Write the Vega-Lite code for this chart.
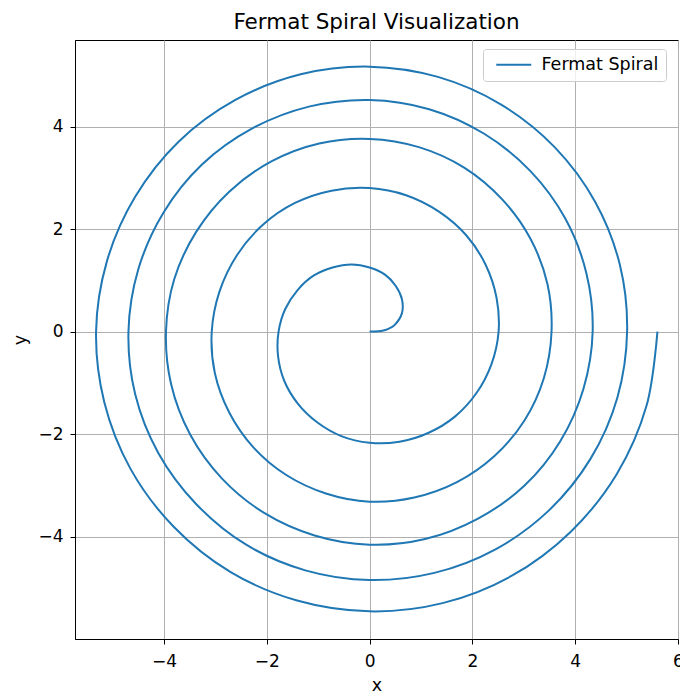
{
  "$schema": "https://vega.github.io/schema/vega-lite/v6.json",
  "width": 603,
  "height": 599,
  "autosize": "none",
  "padding": {"left": 75, "top": 40, "right": 2, "bottom": 56},
  "background": "white",
  "title": {"text": "Fermat Spiral Visualization", "font": "DejaVu Sans", "fontSize": 21.5, "fontWeight": "normal", "color": "#000000", "offset": 7, "anchor": "middle"},
  "config": {
    "font": "DejaVu Sans",
    "view": {"stroke": "#000000", "strokeWidth": 1},
    "axis": {
      "domain": true, "domainColor": "#000000", "domainWidth": 1,
      "ticks": true, "tickColor": "#000000", "tickSize": 5, "tickWidth": 1,
      "labelFont": "DejaVu Sans", "labelFontSize": 17, "labelColor": "#000000",
      "grid": true, "gridColor": "#b0b0b0", "gridWidth": 1,
      "titleFont": "DejaVu Sans", "titleFontSize": 17.5, "titleFontWeight": "normal", "titleColor": "#000000"
    }
  },
  "data": {"values": [
    {"i": 0, "x": 0, "y": 0},
    {"i": 0.1, "x": 0.1, "y": 0.0},
    {"i": 0.3, "x": 0.22, "y": 0.01},
    {"i": 0.5, "x": 0.31, "y": 0.03},
    {"i": 0.7, "x": 0.42, "y": 0.08},
    {"i": 1, "x": 0.49, "y": 0.13},
    {"i": 2, "x": 0.63, "y": 0.36},
    {"i": 3, "x": 0.63, "y": 0.63},
    {"i": 4, "x": 0.51, "y": 0.89},
    {"i": 5, "x": 0.30, "y": 1.11},
    {"i": 6, "x": 0, "y": 1.25},
    {"i": 7, "x": -0.35, "y": 1.31},
    {"i": 8, "x": -0.72, "y": 1.25},
    {"i": 9, "x": -1.09, "y": 1.09},
    {"i": 10, "x": -1.40, "y": 0.81},
    {"i": 11, "x": -1.64, "y": 0.44},
    {"i": 12, "x": -1.77, "y": 0},
    {"i": 13, "x": -1.78, "y": -0.48},
    {"i": 14, "x": -1.66, "y": -0.96},
    {"i": 15, "x": -1.40, "y": -1.40},
    {"i": 16, "x": -1.02, "y": -1.77},
    {"i": 17, "x": -0.55, "y": -2.04},
    {"i": 18, "x": 0, "y": -2.17},
    {"i": 19, "x": 0.58, "y": -2.15},
    {"i": 20, "x": 1.14, "y": -1.98},
    {"i": 21, "x": 1.66, "y": -1.66},
    {"i": 22, "x": 2.08, "y": -1.20},
    {"i": 23, "x": 2.37, "y": -0.64},
    {"i": 24, "x": 2.51, "y": 0},
    {"i": 25, "x": 2.47, "y": 0.66},
    {"i": 26, "x": 2.26, "y": 1.30},
    {"i": 27, "x": 1.88, "y": 1.88},
    {"i": 28, "x": 1.35, "y": 2.34},
    {"i": 29, "x": 0.71, "y": 2.66},
    {"i": 30, "x": 0, "y": 2.80},
    {"i": 31, "x": -0.74, "y": 2.75},
    {"i": 32, "x": -1.45, "y": 2.51},
    {"i": 33, "x": -2.08, "y": 2.08},
    {"i": 34, "x": -2.58, "y": 1.49},
    {"i": 35, "x": -2.92, "y": 0.78},
    {"i": 36, "x": -3.07, "y": 0},
    {"i": 37, "x": -3.01, "y": -0.81},
    {"i": 38, "x": -2.73, "y": -1.58},
    {"i": 39, "x": -2.26, "y": -2.26},
    {"i": 40, "x": -1.62, "y": -2.80},
    {"i": 41, "x": -0.85, "y": -3.16},
    {"i": 42, "x": 0, "y": -3.32},
    {"i": 43, "x": 0.87, "y": -3.24},
    {"i": 44, "x": 1.70, "y": -2.94},
    {"i": 45, "x": 2.43, "y": -2.43},
    {"i": 46, "x": 3.01, "y": -1.74},
    {"i": 47, "x": 3.39, "y": -0.91},
    {"i": 48, "x": 3.54, "y": 0},
    {"i": 49, "x": 3.46, "y": 0.93},
    {"i": 50, "x": 3.13, "y": 1.81},
    {"i": 51, "x": 2.58, "y": 2.58},
    {"i": 52, "x": 1.84, "y": 3.20},
    {"i": 53, "x": 0.96, "y": 3.60},
    {"i": 54, "x": 0, "y": 3.76},
    {"i": 55, "x": -0.98, "y": 3.67},
    {"i": 56, "x": -1.91, "y": 3.32},
    {"i": 57, "x": -2.73, "y": 2.73},
    {"i": 58, "x": -3.37, "y": 1.95},
    {"i": 59, "x": -3.80, "y": 1.02},
    {"i": 60, "x": -3.96, "y": 0},
    {"i": 61, "x": -3.86, "y": -1.03},
    {"i": 62, "x": -3.49, "y": -2.01},
    {"i": 63, "x": -2.87, "y": -2.87},
    {"i": 64, "x": -2.05, "y": -3.54},
    {"i": 65, "x": -1.07, "y": -3.98},
    {"i": 66, "x": 0, "y": -4.16},
    {"i": 67, "x": 1.08, "y": -4.05},
    {"i": 68, "x": 2.11, "y": -3.65},
    {"i": 69, "x": 3.01, "y": -3.01},
    {"i": 70, "x": 3.71, "y": -2.14},
    {"i": 71, "x": 4.16, "y": -1.12},
    {"i": 72, "x": 4.34, "y": 0},
    {"i": 73, "x": 4.22, "y": 1.13},
    {"i": 74, "x": 3.81, "y": 2.20},
    {"i": 75, "x": 3.13, "y": 3.13},
    {"i": 76, "x": 2.23, "y": 3.86},
    {"i": 77, "x": 1.16, "y": 4.34},
    {"i": 78, "x": 0, "y": 4.52},
    {"i": 79, "x": -1.18, "y": 4.39},
    {"i": 80, "x": -2.29, "y": 3.96},
    {"i": 81, "x": -3.26, "y": 3.26},
    {"i": 82, "x": -4.01, "y": 2.32},
    {"i": 83, "x": -4.50, "y": 1.21},
    {"i": 84, "x": -4.69, "y": 0},
    {"i": 85, "x": -4.56, "y": -1.22},
    {"i": 86, "x": -4.11, "y": -2.37},
    {"i": 87, "x": -3.37, "y": -3.37},
    {"i": 88, "x": -2.40, "y": -4.16},
    {"i": 89, "x": -1.25, "y": -4.66},
    {"i": 90, "x": 0, "y": -4.85},
    {"i": 91, "x": 1.26, "y": -4.71},
    {"i": 92, "x": 2.45, "y": -4.25},
    {"i": 93, "x": 3.49, "y": -3.49},
    {"i": 94, "x": 4.30, "y": -2.48},
    {"i": 95, "x": 4.82, "y": -1.29},
    {"i": 96, "x": 5.01, "y": 0},
    {"i": 97, "x": 4.87, "y": 1.30},
    {"i": 98, "x": 4.39, "y": 2.53},
    {"i": 99, "x": 3.60, "y": 3.60},
    {"i": 100, "x": 2.56, "y": 4.43},
    {"i": 101, "x": 1.33, "y": 4.97},
    {"i": 102, "x": 0, "y": 5.17},
    {"i": 103, "x": -1.34, "y": 5.02},
    {"i": 104, "x": -2.61, "y": 4.52},
    {"i": 105, "x": -3.71, "y": 3.71},
    {"i": 106, "x": -4.56, "y": 2.63},
    {"i": 107, "x": -5.11, "y": 1.37},
    {"i": 108, "x": -5.32, "y": 0},
    {"i": 109, "x": -5.16, "y": -1.38},
    {"i": 110, "x": -4.65, "y": -2.68},
    {"i": 111, "x": -3.81, "y": -3.81},
    {"i": 112, "x": -2.71, "y": -4.69},
    {"i": 113, "x": -1.41, "y": -5.25},
    {"i": 114, "x": 0, "y": -5.46},
    {"i": 115, "x": 1.42, "y": -5.30},
    {"i": 116, "x": 2.76, "y": -4.77},
    {"i": 117, "x": 3.91, "y": -3.91},
    {"i": 118, "x": 4.81, "y": -2.78},
    {"i": 119, "x": 5.39, "y": -1.44},
    {"i": 120, "x": 5.60, "y": 0}
  ]},
  "mark": {"type": "line", "interpolate": "catmull-rom", "strokeWidth": 2, "clip": true},
  "encoding": {
    "x": {
      "field": "x", "type": "quantitative",
      "scale": {"domain": [-5.73, 6.0], "nice": false, "zero": false},
      "axis": {"values": [-4, -2, 0, 2, 4, 6], "title": "x", "labelPadding": 9, "titlePadding": 7, "labelFlush": false}
    },
    "y": {
      "field": "y", "type": "quantitative",
      "scale": {"domain": [-6.0, 5.69], "nice": false, "zero": false},
      "axis": {"values": [-4, -2, 0, 2, 4], "title": "y", "labelPadding": 7, "titlePadding": 8}
    },
    "order": {"field": "i", "type": "quantitative"},
    "color": {
      "datum": "Fermat Spiral", "type": "nominal",
      "scale": {"range": ["#1f77b4"]},
      "legend": {
        "title": null, "orient": "none", "legendX": 408, "legendY": 9,
        "symbolType": "M-5,0L5,0", "symbolSize": 49, "symbolStrokeWidth": 2, "symbolStrokeColor": "#1f77b4", "symbolFillColor": "transparent", "symbolOffset": 15,
        "labelFont": "DejaVu Sans", "labelFontSize": 17.5, "labelColor": "#000000", "labelOffset": 19,
        "fillColor": "rgba(255,255,255,0.8)", "strokeColor": "#cccccc", "cornerRadius": 3, "padding": 7
      }
    }
  }
}
